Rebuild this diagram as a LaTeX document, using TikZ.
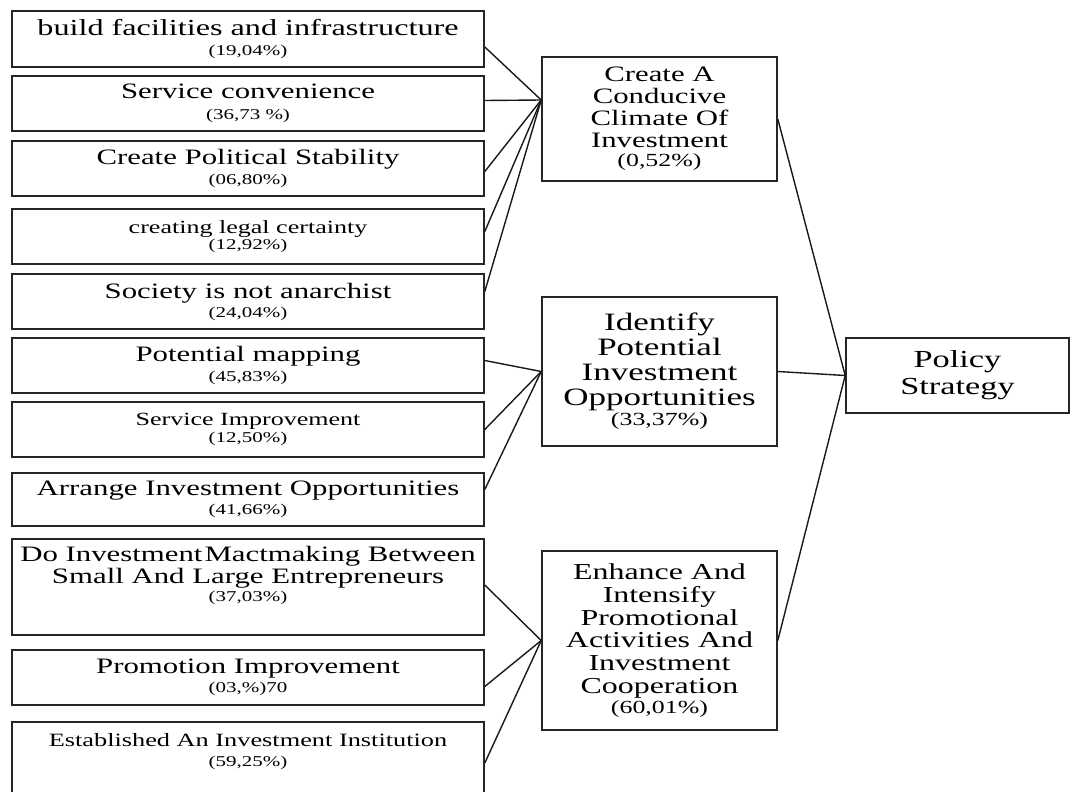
\documentclass[tikz,border=0pt]{standalone}
\usepackage{fontspec}
\setmainfont{Liberation Serif}[FakeStretch=1.4]
\usetikzlibrary{positioning}
\newcommand{\pcts}{\fontsize{15}{15}\selectfont}
\newcommand{\pctm}{\fontsize{18.5}{18.5}\selectfont}

\tikzset{
  box/.style={draw=black!85, line width=1.6pt, align=center, inner sep=2pt},
  lbox/.style={box, minimum width=472pt, minimum height=55pt, font=\fontsize{22}{22}\selectfont},
  sbox/.style={lbox, font=\fontsize{18.6}{18.6}\selectfont},
  mbox/.style={box, minimum width=235pt, font=\fontsize{22}{22}\selectfont},
  txt/.style={align=center, inner sep=2pt, font=\fontsize{22}{22}\selectfont},
  link/.style={draw=black!90, line width=1.4pt},
}

\begin{document}
\begin{tikzpicture}[x=1pt,y=-1pt]
  \clip (0,0) rectangle (1072,792);
  \fill[white] (0,0) rectangle (1072,792);

  % left column
  \node[lbox, minimum height=56pt, font=\fontsize{23}{23}\selectfont] (b1) at (248,39) {build facilities and infrastructure\\[-3pt]{\pcts (19,04\%)}};
  \node[lbox] (b2) at (248,103.5) {Service convenience\\[-1pt]{\pcts (36,73 \%)}};
  \node[lbox] (b3) at (248,168.5) {Create Political Stability\\[-2pt]{\pcts (06,80\%)}};
  \node[sbox] (b4) at (248,236.5) {creating legal certainty\\[-2pt]{\pcts (12,92\%)}};
  \node[lbox] (b5) at (248,301.5) {Society is not anarchist\\[-3pt]{\pcts (24,04\%)}};
  \node[lbox] (b6) at (248,365.5) {Potential mapping\\[-2pt]{\pcts (45,83\%)}};
  \node[sbox] (b7) at (248,429.5) {Service Improvement\\[-2pt]{\pcts (12,50\%)}};
  \node[lbox, minimum height=53pt] (b8) at (248,499.5) {Arrange Investment Opportunities\\[-3pt]{\pcts (41,66\%)}};
  \node[lbox, minimum height=96pt] (b9) at (248,587) {};
  \node[txt, below=6pt of b9.north] (t9) {Do Investment\hspace{2pt}Mactmaking Between\\Small And Large Entrepreneurs\\[-4pt]{\pcts (37,03\%)}};
  \node[lbox] (b10) at (248,677.5) {Promotion Improvement\\[-3pt]{\pcts (03,\%)70}};
  \node[lbox, minimum height=100pt] (b11) at (248,772) {};
  \node[txt, below=10pt of b11.north, font=\fontsize{18.8}{18.8}\selectfont] (t11) {Established An Investment Institution\\[1pt]{\pcts (59,25\%)}};

  % middle column
  \node[mbox, minimum height=124pt] (mA) at (659.5,119) {Create A\\Conducive\\Climate Of\\Investment\\[-3pt]{\pctm (0,52\%)}};
  \node[mbox, minimum height=149pt, font=\fontsize{25}{25}\selectfont] (mB) at (659.5,371.5) {Identify\\Potential\\Investment\\Opportunities\\[-5pt]{\pctm (33,37\%)}};
  \node[mbox, minimum height=179pt, font=\fontsize{22.8}{22.8}\selectfont] (mC) at (659.5,640.5) {Enhance And\\Intensify\\Promotional\\Activities And\\Investment\\Cooperation\\[-3pt]{\pctm (60,01\%)}};

  % right
  \node[box, minimum width=223pt, minimum height=75pt, font=\fontsize{24.5}{27}\selectfont] (ps) at (957.5,375.5) {Policy\\Strategy};

  \coordinate (jA) at ([yshift=19pt]mA.west);

  \draw[link] ([yshift=-8pt]b1.east) -- (jA);
  \draw[link] ([yshift=3pt]b2.east) -- (jA);
  \draw[link] ([yshift=-3pt]b3.east) -- (jA);
  \draw[link] ([yshift=5pt]b4.east) -- (jA);
  \draw[link] ([yshift=10pt]b5.east) -- (jA);

  \draw[link] ([yshift=5pt]b6.east) -- (mB.west);
  \draw[link] (b7.east) -- (mB.west);
  \draw[link] ([yshift=10pt]b8.east) -- (mB.west);

  \draw[link] ([yshift=2pt]b9.east) -- (mC.west);
  \draw[link] ([yshift=-9pt]b10.east) -- (mC.west);
  \draw[link] ([yshift=9pt]b11.east) -- (mC.west);

  \draw[link] (mA.east) -- (ps.west);
  \draw[link] (mB.east) -- (ps.west);
  \draw[link] (mC.east) -- (ps.west);
\end{tikzpicture}
\end{document}
